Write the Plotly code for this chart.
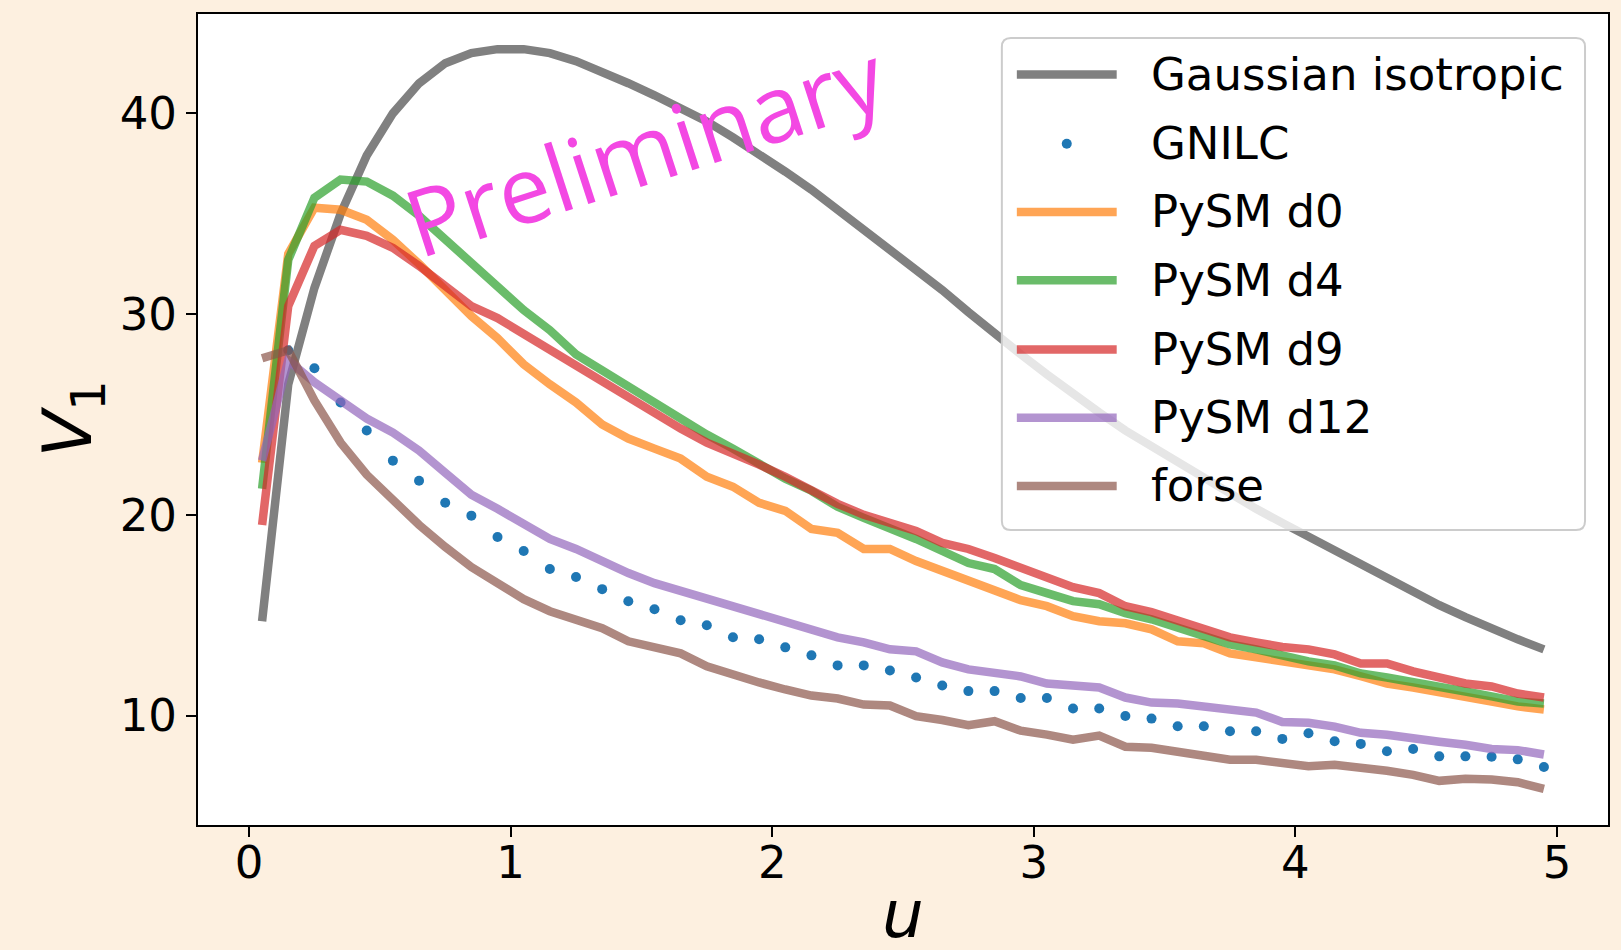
import plotly.graph_objects as go

# ---------------- data ----------------
u = [0.05, 0.15, 0.25, 0.35, 0.45, 0.55, 0.65, 0.75, 0.85, 0.95,
     1.05, 1.15, 1.25, 1.35, 1.45, 1.55, 1.65, 1.75, 1.85, 1.95,
     2.05, 2.15, 2.25, 2.35, 2.45, 2.55, 2.65, 2.75, 2.85, 2.95,
     3.05, 3.15, 3.25, 3.35, 3.45, 3.55, 3.65, 3.75, 3.85, 3.95,
     4.05, 4.15, 4.25, 4.35, 4.45, 4.55, 4.65, 4.75, 4.85, 4.95]

gaussian_iso = [14.7, 26.5, 31.3, 35.0, 37.9, 40.0, 41.5, 42.5, 43.0, 43.2,
                43.2, 43.0, 42.6, 42.1, 41.5, 40.9, 40.3, 39.6, 38.8, 38.0,
                37.1, 36.2, 35.2, 34.3, 33.3, 32.2, 31.2, 30.1, 29.0, 28.0,
                27.0, 26.0, 25.1, 24.2, 23.4, 22.6, 21.8, 21.0, 20.3, 19.6,
                18.9, 18.2, 17.5, 16.8, 16.1, 15.5, 14.9, 14.3, 13.8, 13.3]

gnilc = [None, 28.2, 27.3, 25.6, 24.2, 22.7, 21.7, 20.6, 19.96, 18.9,
         18.2, 17.3, 16.9, 16.3, 15.7, 15.3, 14.75, 14.5, 13.9, 13.8,
         13.4, 13.0, 12.5, 12.5, 12.25, 11.9, 11.5, 11.22, 11.22, 10.88,
         10.88, 10.35, 10.35, 9.98, 9.85, 9.47, 9.47, 9.22, 9.22, 8.84,
         9.12, 8.72, 8.59, 8.22, 8.34, 7.97, 7.97, 7.95, 7.82, 7.44]

pysm_d0 = [22.6, 33.0, 35.3, 35.2, 34.7, 33.7, 32.5, 31.2, 29.9, 28.8,
           27.5, 26.5, 25.6, 24.5, 23.8, 23.3, 22.8, 21.9, 21.4, 20.6,
           20.2, 19.3, 19.1, 18.3, 18.3, 17.7, 17.2, 16.75, 16.3, 15.75,
           15.45, 14.95, 14.7, 14.6, 14.3, 13.7, 13.6, 13.1, 12.9, 12.7,
           12.4, 12.3, 11.96, 11.6, 11.4, 11.2, 10.96, 10.7, 10.46, 10.3]

pysm_d4 = [21.3, 32.7, 35.8, 36.7, 36.6, 35.9, 34.9, 33.7, 32.5, 31.4,
           30.2, 29.2, 28.0, 27.2, 26.4, 25.6, 24.7, 24.0, 23.3, 22.5,
           21.8, 21.2, 20.4, 19.85, 19.35, 18.8, 18.2, 17.6, 17.3, 16.5,
           16.1, 15.7, 15.55, 15.1, 14.8, 14.4, 14.0, 13.55, 13.3, 12.95,
           12.7, 12.5, 12.1, 11.9, 11.7, 11.46, 11.2, 10.96, 10.7, 10.6]

pysm_d9 = [19.5, 30.4, 33.4, 34.2, 33.9, 33.3, 32.4, 31.4, 30.4, 29.8,
           29.0, 28.3, 27.4, 26.6, 25.8, 25.1, 24.3, 23.6, 23.1, 22.5,
           21.9, 21.2, 20.55, 20.0, 19.6, 19.2, 18.6, 18.3, 17.85, 17.35,
           16.8, 16.4, 16.1, 15.45, 15.15, 14.75, 14.3, 13.9, 13.65, 13.42,
           13.3, 13.05, 12.6, 12.6, 12.2, 11.9, 11.6, 11.45, 11.1, 10.9]

pysm_d12 = [22.7, 27.7, 26.6, 25.7, 24.8, 24.1, 23.2, 22.1, 21.0, 20.3,
            19.5, 18.8, 18.3, 17.65, 17.1, 16.6, 16.2, 15.85, 15.45, 15.05,
            14.65, 14.25, 13.9, 13.65, 13.3, 13.2, 12.65, 12.3, 12.15, 11.95,
            11.6, 11.5, 11.4, 10.9, 10.65, 10.6, 10.45, 10.25, 10.15, 9.68,
            9.64, 9.45, 9.14, 9.05, 8.92, 8.7, 8.55, 8.34, 8.28, 8.06]

forse = [27.8, 28.2, 25.7, 23.6, 22.0, 20.7, 19.5, 18.4, 17.4, 16.6,
         15.8, 15.2, 14.75, 14.35, 13.7, 13.35, 13.1, 12.45, 12.0, 11.65,
         11.3, 11.0, 10.85, 10.55, 10.5, 9.97, 9.78, 9.52, 9.72, 9.25,
         9.05, 8.8, 9.0, 8.45, 8.4, 8.17, 7.97, 7.8, 7.8, 7.6,
         7.48, 7.55, 7.42, 7.25, 7.05, 6.75, 6.85, 6.82, 6.68, 6.35]

x_ticks = [0, 1, 2, 3, 4, 5]
y_ticks = [10, 20, 30, 40]

series_names = ["Gaussian isotropic", "GNILC", "PySM d0", "PySM d4",
                "PySM d9", "PySM d12", "forse"]
series_colors = ["#808080", "#1f77b4", "#ff7f0e", "#2ca02c",
                 "#d62728", "#9467bd", "#8c564b"]

# ---------------- figure ----------------
W, H = 1621, 950
ML, MR, MT, MB = 198, 11, 14, 125
PW, PH = W - ML - MR, H - MT - MB
LW = 8.5
FONT = "DejaVu Sans"

fig = go.Figure()

fig.add_trace(go.Scatter(x=u, y=gaussian_iso, mode="lines", name=series_names[0],
                         line=dict(color=series_colors[0], width=LW)))
fig.add_trace(go.Scatter(x=u, y=gnilc, mode="markers", name=series_names[1],
                         marker=dict(color=series_colors[1], size=10, line=dict(width=0))))
for name, col, vals in zip(series_names[2:], series_colors[2:],
                           [pysm_d0, pysm_d4, pysm_d9, pysm_d12, forse]):
    fig.add_trace(go.Scatter(x=u, y=vals, mode="lines", name=name, opacity=0.7,
                             line=dict(color=col, width=LW)))

axis_common = dict(showgrid=False, zeroline=False, showline=True, linecolor="black",
                   linewidth=2, mirror=True, ticks="outside", ticklen=10, tickwidth=2,
                   tickcolor="black", tickfont=dict(family=FONT, size=45, color="black"))

fig.update_layout(
    width=W, height=H, autosize=False,
    margin=dict(l=ML, r=MR, t=MT, b=MB),
    paper_bgcolor="#fdf0e0", plot_bgcolor="white",
    showlegend=False,
    xaxis=dict(range=[-0.195, 5.195], tickvals=x_ticks, ticklabelstandoff=-13,
               **axis_common),
    yaxis=dict(range=[4.55, 44.95], tickvals=y_ticks, **axis_common),
)


def px_x(p):
    return (p - ML) / PW


def px_y(p):
    return (H - MB - p) / PH


# ---- manual legend (matplotlib style) ----
bx0, bx1, by0, by1 = 1003, 1587, 38, 530
r = 9
x0, x1 = px_x(bx0), px_x(bx1)
y0, y1 = px_y(by1), px_y(by0)
rx, ry = r / PW, r / PH
path = (f"M{x0+rx},{y1} L{x1-rx},{y1} Q{x1},{y1} {x1},{y1-ry} "
        f"L{x1},{y0+ry} Q{x1},{y0} {x1-rx},{y0} L{x0+rx},{y0} "
        f"Q{x0},{y0} {x0},{y0+ry} L{x0},{y1-ry} Q{x0},{y1} {x0+rx},{y1} Z")
shapes = [dict(type="path", path=path, xref="paper", yref="paper",
               fillcolor="rgba(255,255,255,0.8)", line=dict(color="#cccccc", width=2),
               layer="above")]
annotations = []
rows = [74.4, 143.7, 211.9, 280.2, 349.4, 417.7, 485.9]
for i, (name, col) in enumerate(zip(series_names, series_colors)):
    yy = px_y(rows[i])
    if name == "GNILC":
        cx = px_x(1068)
        shapes.append(dict(type="circle", xref="paper", yref="paper",
                           x0=cx - 5 / PW, x1=cx + 5 / PW, y0=yy - 5 / PH, y1=yy + 5 / PH,
                           fillcolor=col, line=dict(width=0), layer="above"))
    else:
        shapes.append(dict(type="line", xref="paper", yref="paper",
                           x0=px_x(1018), x1=px_x(1118), y0=yy, y1=yy,
                           line=dict(color=col, width=LW),
                           opacity=1.0 if i == 0 else 0.7, layer="above"))
    annotations.append(dict(text=name, xref="paper", yref="paper", x=px_x(1150), y=yy,
                            xanchor="left", yanchor="middle", showarrow=False,
                            font=dict(family=FONT, size=45, color="black")))

# axis labels
annotations.append(dict(text="<i>u</i>", xref="paper", yref="paper", x=0.5, y=px_y(914),
                        xanchor="center", yanchor="middle", showarrow=False,
                        font=dict(family=FONT, size=66, color="black")))
annotations.append(dict(text="<i>V</i><sub>1</sub>", xref="paper", yref="paper",
                        x=px_x(72), y=px_y(419), xanchor="center", yanchor="middle",
                        textangle=-90, showarrow=False,
                        font=dict(family=FONT, size=68, color="black")))

# watermark
annotations.append(dict(text="Preliminary", xref="paper", yref="paper",
                        x=px_x(645), y=px_y(148), xanchor="center", yanchor="middle",
                        textangle=-18, showarrow=False,
                        font=dict(family="Open Sans", size=93, color="#f348e3")))

fig.update_layout(shapes=shapes, annotations=annotations)

fig.write_html("out.html")
